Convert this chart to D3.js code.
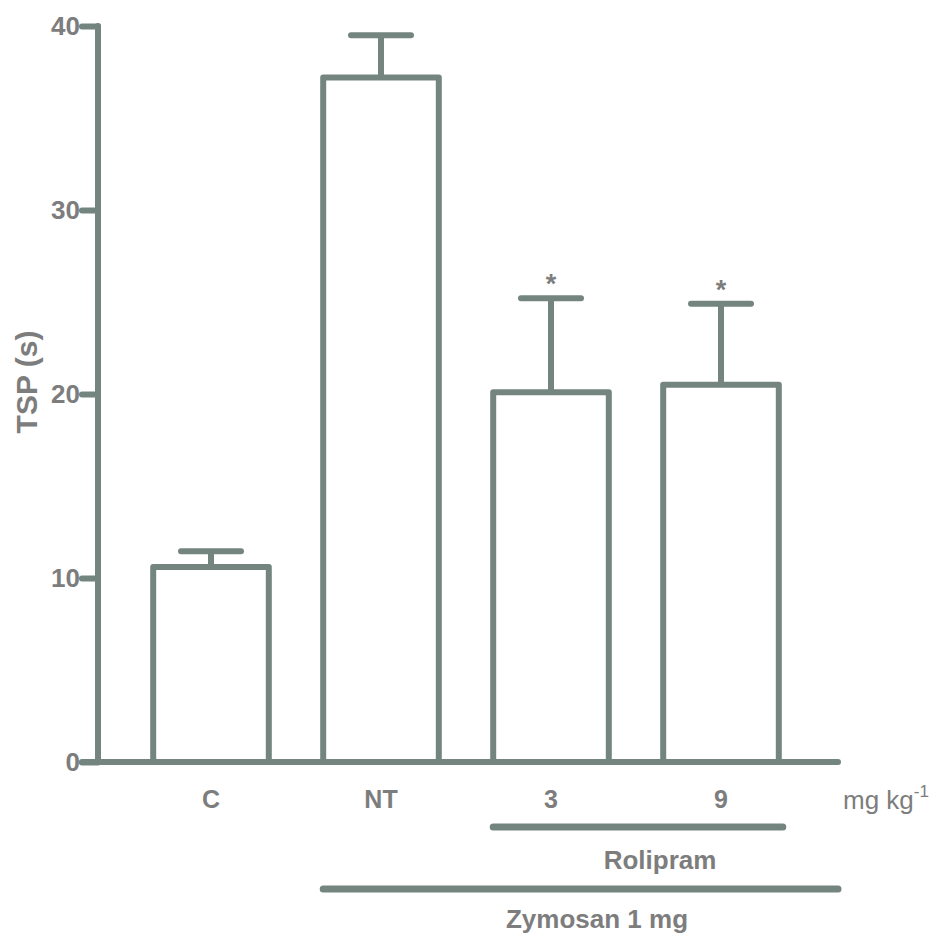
<!DOCTYPE html>
<html>
<head>
<meta charset="utf-8">
<script src="https://cdn.jsdelivr.net/npm/d3@7"></script>
<style>
  html, body { margin: 0; padding: 0; background: #fff; }
  svg { display: block; }
  text { font-family: "Liberation Sans", Arial, Helvetica, sans-serif; }
</style>
</head>
<body>
<svg id="chart" width="937" height="935"></svg>
<script>
// ---- data ----
const categories = ["C", "NT", "3", "9"];
const means = [10.6, 37.2, 20.1, 20.5];
const errorTops = [11.45, 39.5, 25.2, 24.9];
const significant = [false, false, true, true];
const yTicks = [0, 10, 20, 30, 40];
const yLabel = "TSP (s)";
const unitLabel = "mg kg";
const unitExp = "-1";
const groupLabels = ["Rolipram", "Zymosan 1 mg"];
const rolipramSpan = ["3", "9"];
const zymosanSpan = ["NT", "9"];

// ---- styles ----
const lineColor = "#74857f";
const textColor = "#7d7d7d";
const sw = 6;

const svg = d3.select("#chart");

const y = d3.scaleLinear().domain([0, 40]).range([762, 26]);
const x = d3.scaleBand().domain(categories).range([126, 806])
  .paddingInner(0.32).paddingOuter(0.16);

const axisX = 98;
const y0 = y(0);

// y-axis ticks and labels
const yAxis = d3.axisLeft(y).tickValues(yTicks).tickSize(16).tickPadding(2)
  .tickFormat(d3.format("d"));
const gy = svg.append("g").attr("transform", `translate(${axisX},0)`).call(yAxis);
gy.select(".domain").remove();
gy.selectAll(".tick line")
  .attr("stroke", lineColor).attr("stroke-width", sw).attr("stroke-linecap", "round");
gy.selectAll(".tick text")
  .attr("fill", textColor).style("font-size", "26px").style("font-weight", "bold")
  .style("font-family", "'Liberation Sans', Arial, sans-serif");

// y-axis line
svg.append("line")
  .attr("x1", axisX).attr("x2", axisX).attr("y1", y(40)).attr("y2", y0)
  .attr("stroke", lineColor).attr("stroke-width", sw).attr("stroke-linecap", "round");

// y label
svg.append("text")
  .attr("transform", `translate(37,${382}) rotate(-90)`)
  .attr("text-anchor", "middle")
  .attr("fill", textColor).style("font-size", "30px").style("font-weight", "bold")
  .text(yLabel);

// bars
const data = categories.map((c, i) => ({ c, m: means[i], e: errorTops[i], s: significant[i] }));

const eg = svg.append("g");
eg.selectAll("line.err").data(data).join("line")
  .attr("class", "err")
  .attr("x1", d => x(d.c) + x.bandwidth() / 2).attr("x2", d => x(d.c) + x.bandwidth() / 2)
  .attr("y1", d => y(d.m)).attr("y2", d => y(d.e))
  .attr("stroke", lineColor).attr("stroke-width", sw);
eg.selectAll("line.cap").data(data).join("line")
  .attr("class", "cap")
  .attr("x1", d => x(d.c) + x.bandwidth() / 2 - 30).attr("x2", d => x(d.c) + x.bandwidth() / 2 + 30)
  .attr("y1", d => y(d.e)).attr("y2", d => y(d.e))
  .attr("stroke", lineColor).attr("stroke-width", sw).attr("stroke-linecap", "round");

svg.append("g").selectAll("rect").data(data).join("rect")
  .attr("x", d => x(d.c)).attr("width", x.bandwidth())
  .attr("y", d => y(d.m)).attr("height", d => y0 - y(d.m))
  .attr("fill", "#fff").attr("stroke", lineColor).attr("stroke-width", sw)
  .attr("stroke-linejoin", "round");

// asterisks
svg.append("g").selectAll("text").data(data.filter(d => d.s)).join("text")
  .attr("x", d => x(d.c) + x.bandwidth() / 2)
  .attr("y", d => y(d.e) - 5)
  .attr("text-anchor", "middle")
  .attr("fill", textColor).style("font-size", "27px").style("font-weight", "bold")
  .text("*");

// x-axis line
svg.append("line")
  .attr("x1", 82).attr("x2", 838).attr("y1", y0).attr("y2", y0)
  .attr("stroke", lineColor).attr("stroke-width", sw).attr("stroke-linecap", "round");

// category labels via axis
const xAxis = d3.axisBottom(x).tickSize(0).tickPadding(28);
const gx = svg.append("g").attr("transform", `translate(0,${y0})`).call(xAxis);
gx.select(".domain").remove();
gx.selectAll(".tick text")
  .attr("fill", textColor).style("font-size", "25px").style("font-weight", "bold")
  .style("font-family", "'Liberation Sans', Arial, sans-serif");

// unit label
const ut = svg.append("text").attr("x", 843).attr("y", 809)
  .attr("fill", textColor).style("font-size", "26px");
ut.append("tspan").text(unitLabel);
ut.append("tspan").attr("dy", -12).style("font-size", "17px").text(unitExp);

// group lines
function groupLine(yy, x1, x2) {
  svg.append("line").attr("x1", x1).attr("x2", x2).attr("y1", yy).attr("y2", yy)
    .attr("stroke", lineColor).attr("stroke-width", sw + 1).attr("stroke-linecap", "round");
}
groupLine(827, x(rolipramSpan[0]), x(rolipramSpan[1]) + x.bandwidth() + 4);
groupLine(889, x(zymosanSpan[0]), 838);

svg.append("text").attr("x", 660).attr("y", 869).attr("text-anchor", "middle")
  .attr("fill", textColor).style("font-size", "26px").style("font-weight", "bold")
  .text(groupLabels[0]);
svg.append("text").attr("x", 597).attr("y", 928).attr("text-anchor", "middle")
  .attr("fill", textColor).style("font-size", "26px").style("font-weight", "bold")
  .text(groupLabels[1]);
</script>
</body>
</html>
